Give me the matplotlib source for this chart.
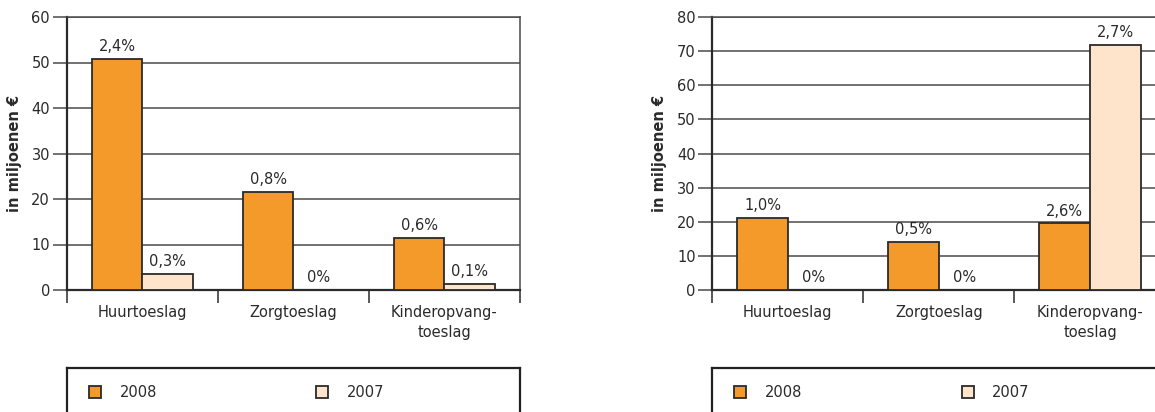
import numpy as np
import matplotlib.pyplot as plt
from matplotlib.patches import Rectangle

plt.rcParams['font.family'] = ['DejaVu Sans']
plt.rcParams['font.size'] = 10.5

# data
categories = ['Huurtoeslag', 'Zorgtoeslag', 'Kinderopvang-\ntoeslag']
years = ['2008', '2007']

left_2008 = [50.7, 21.5, 11.5]
left_2007 = [3.5, 0.0, 1.4]
left_lbl_2008 = ['2,4%', '0,8%', '0,6%']
left_lbl_2007 = ['0,3%', '0%', '0,1%']

right_2008 = [21.2, 14.1, 19.5]
right_2007 = [0.0, 0.0, 71.8]
right_lbl_2008 = ['1,0%', '0,5%', '2,6%']
right_lbl_2007 = ['0%', '0%', '2,7%']

c2008 = '#F39A2B'
c2007 = '#FDE4CA'
edge = '#2a2a2a'
grid_c = '#4a4a4a'
txt_c = '#2a2a2a'

W, H = 1155, 412
FS = 10.5


def draw_chart(ax, v08, v07, l08, l07, ymax, width_px):
    x = np.arange(len(categories))
    bw = 0.335
    b1 = ax.bar(x - bw / 2, v08, bw, color=c2008, edgecolor=edge, linewidth=1.3, zorder=3)
    b2 = ax.bar(x + bw / 2, v07, bw, color=c2007, edgecolor=edge, linewidth=1.3, zorder=3)
    for bars, labels in [(b1, l08), (b2, l07)]:
        for rect, lab in zip(bars, labels):
            ax.annotate(lab, (rect.get_x() + rect.get_width() / 2, rect.get_height()),
                        xytext=(0, 3.5), textcoords='offset points',
                        ha='center', va='bottom', color=txt_c, fontsize=FS)
    ax.set_xlim(-0.5, len(categories) - 0.5)
    ax.set_ylim(0, ymax)
    ax.set_yticks(np.arange(0, ymax + 1, 10))
    ax.yaxis.grid(True, color=grid_c, linewidth=1.1, zorder=0)
    ax.set_axisbelow(True)
    ax.tick_params(axis='y', length=10, width=1.1, color=grid_c, pad=2,
                   labelcolor=txt_c, labelsize=FS)
    # category boundary ticks
    ax.set_xticks(np.arange(-0.5, len(categories), 1.0))
    ax.set_xticklabels([])
    ax.tick_params(axis='x', which='major', length=9.5, width=1.1, color=edge, direction='out')
    ax.set_xticks(x, minor=True)
    ax.set_xticklabels(categories, minor=True, linespacing=1.4)
    ax.tick_params(axis='x', which='minor', length=0, pad=11, labelcolor=txt_c, labelsize=FS)
    for s in ['left', 'bottom']:
        ax.spines[s].set_color(edge)
        ax.spines[s].set_linewidth(1.6)
    for s in ['top', 'right']:
        ax.spines[s].set_color(grid_c)
        ax.spines[s].set_linewidth(1.1)
    ax.set_ylabel('in miljoenen €', fontweight='bold', color=txt_c, fontsize=FS)
    ax.yaxis.set_label_coords(-45 / width_px, 0.5)


def draw_legend(fig, x0, x1):
    top = 368
    lax = fig.add_axes([x0 / W, -0.1, (x1 - x0) / W, (H - top) / H + 0.1])
    lax.set_xlim(0, x1 - x0)
    lax.set_ylim(H + 0.1 * H, top)
    lax.set_xticks([])
    lax.set_yticks([])
    lax.patch.set_alpha(0)
    for s in ['left', 'right', 'top']:
        lax.spines[s].set_color('#222222')
        lax.spines[s].set_linewidth(1.6)
    lax.spines['bottom'].set_visible(False)
    for col, mx, tx, lab in [(c2008, 22, 53, years[0]), (c2007, 249.5, 280, years[1])]:
        lax.add_patch(Rectangle((mx, 386), 12, 12, facecolor=col, edgecolor=edge, linewidth=1.3))
        lax.text(tx, 392, lab, va='center', ha='left', color=txt_c, fontsize=FS)


fig = plt.figure(figsize=(W / 100, H / 100), dpi=100)

aw = 453.3
ax1 = fig.add_axes([66.7 / W, (H - 290) / H, aw / W, 273 / H])
draw_chart(ax1, left_2008, left_2007, left_lbl_2008, left_lbl_2007, 60, aw)

ax2 = fig.add_axes([712.3 / W, (H - 290) / H, aw / W, 273 / H])
draw_chart(ax2, right_2008, right_2007, right_lbl_2008, right_lbl_2007, 80, aw)

draw_legend(fig, 66.7, 520)
draw_legend(fig, 712.3, 712.3 + aw)

fig.savefig('out.png', dpi=100)
